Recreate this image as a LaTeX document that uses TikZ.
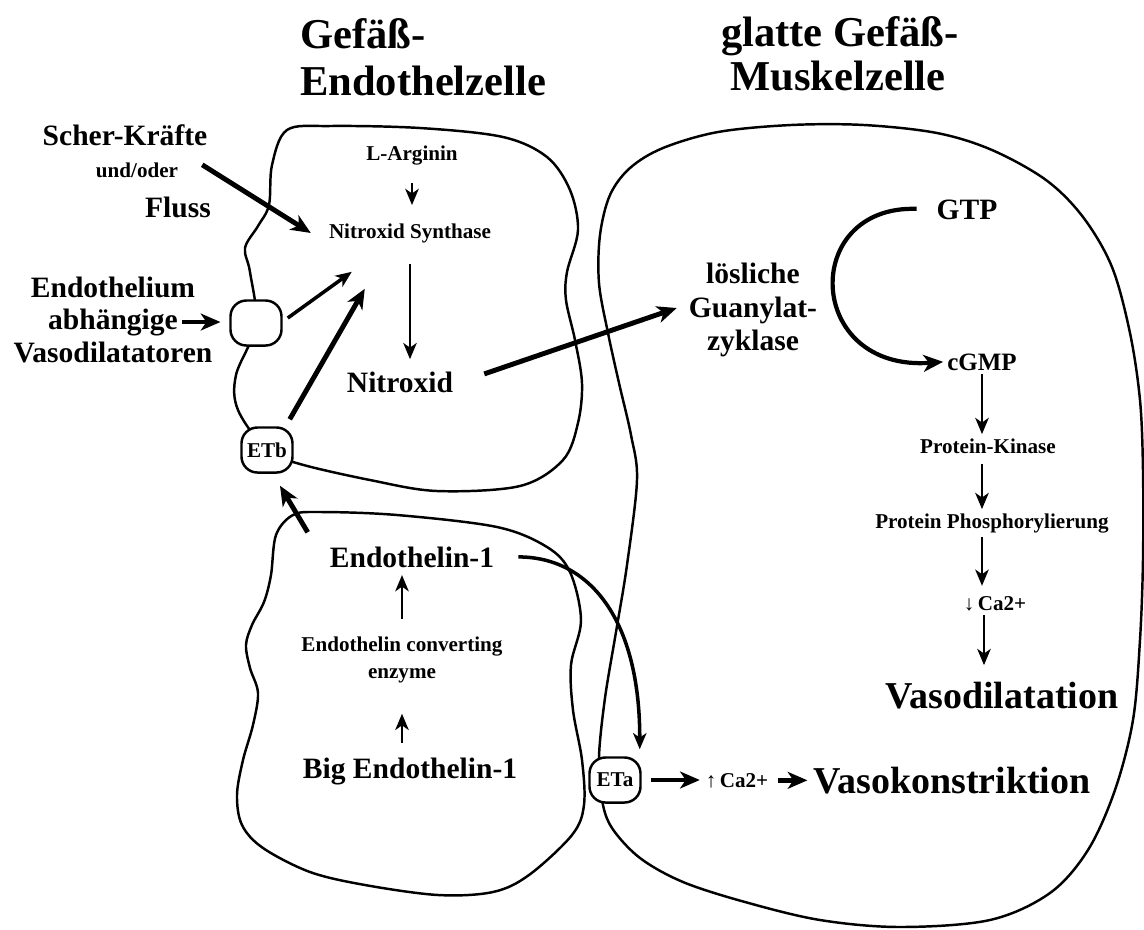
\documentclass[tikz,border=0pt]{standalone}
\usepackage{fontspec}
\setmainfont{Liberation Serif}
\usetikzlibrary{arrows.meta, calc}

\begin{document}
\begin{tikzpicture}[x=0.01cm, y=-0.01cm, every text node part/.style={align=center}]

\tikzstyle{zelle}=[draw, line width=0.7pt]
\tikzstyle{rez}=[draw, line width=0.7pt, fill=white, rounded corners=0.16cm, minimum width=0.51cm, minimum height=0.45cm, inner sep=0pt, font=\fontsize{6}{7}\selectfont\bfseries]
\tikzstyle{klein}=[inner sep=1pt, anchor=base, font=\fontsize{6}{7}\selectfont\bfseries]
\tikzstyle{mittel}=[inner sep=1pt, anchor=base, font=\fontsize{8.4}{9.5}\selectfont\bfseries]
\tikzstyle{gross}=[inner sep=1pt, anchor=base, font=\fontsize{10.8}{12}\selectfont\bfseries]
\tikzstyle{titel}=[inner sep=1pt, anchor=base west, font=\fontsize{12.1}{14}\selectfont\bfseries]
\tikzstyle{arr}=[draw, line width=0.85pt, -{Stealth[length=4.6pt, width=3.8pt, inset=1.3pt]}]
\tikzstyle{dick}=[draw, line width=1.4pt, -{Stealth[length=5.6pt, width=4.8pt, inset=1.6pt]}]

\useasboundingbox (0, 0) rectangle (1144, 929);

% Zellen
\draw [zelle] plot [smooth cycle, tension=0.55] coordinates {
    (287,130) (330,126) (420,128) (503,137) (547,157) (570,190) (578,230)
    (567,272) (566,300) (575,340) (582,383) (578,423) (563,460) (520,486)
    (437,491) (370,480) (300,464) (267,450) (238,410) (236,375) (256,325)
    (250,272) (245,248) (258,226) (269,205) (272,165)};
\draw [zelle] plot [smooth cycle, tension=0.55] coordinates {
    (293,515) (320,512) (397,515) (497,527) (547,547) (570,572) (581,620)
    (571,665) (573,710) (582,760) (584,805) (572,835) (529,875) (493,892)
    (438,895) (365,885) (310,872) (263,848) (242,825) (237,795) (243,760)
    (253,725) (258,693) (250,668) (246,645) (252,625) (264,602) (271,575)
    (276,535)};
\draw [zelle] plot [smooth cycle, tension=0.55] coordinates {
    (663,148) (718,132) (791,125) (864,125) (937,133) (992,150) (1046,180)
    (1083,217) (1112,267) (1130,333) (1140,400) (1143,470) (1143,560)
    (1140,640) (1133,720) (1115,790) (1088,850) (1050,893) (990,920)
    (900,927) (820,920) (745,902) (683,882) (640,858) (612,828) (602,800)
    (599,757) (605,698) (616,632) (627,565) (637,480) (631,435) (619,383)
    (608,333) (599,283) (600,235) (610,195) (630,168)};

% Titel
\node (gef1) [titel] at (296, 48) {Gefäß-};
\node (gef2) [titel] at (296, 95) {Endothelzelle};
\node (mus1) [titel, anchor=base] at (840, 46) {glatte Gefäß-};
\node (mus2) [titel, anchor=base] at (838, 90) {Muskelzelle};

% Endothelzelle
\node (scher)       [mittel] at (125, 145) {Scher-Kräfte};
\node (undoder)     [klein]  at (137, 177) {und/oder};
\node (fluss)       [mittel] at (178, 217) {Fluss};
\node (endothelium) [mittel] at (113, 297) {Endothelium};
\node (abhaengig)   [mittel] at (113, 329) {abhängige};
\node (vasodilat)   [mittel] at (113, 362) {Vasodilatatoren};
\node (rez)         [rez]    at (256, 323) {};
\node (etb)         [rez]    at (267, 450) {ETb};
\node (larginin)    [klein]  at (412, 160) {L-Arginin};
\node (nos)         [klein]  at (410, 238) {Nitroxid Synthase};
\node (no)          [mittel] at (400, 392) {Nitroxid};
\node (et1)         [mittel] at (412, 567) {Endothelin-1};
\node (ece)         [klein, anchor=center, font=\fontsize{6}{7.7}\selectfont\bfseries] at (402, 660) {Endothelin converting\\enzyme};
\node (biget)       [mittel] at (410, 778) {Big Endothelin-1};

% Muskelzelle
\node (gc)    [mittel, anchor=center] at (753, 310) {lösliche\\Guanylat-\\zyklase};
\node (gtp)   [mittel] at (967, 219) {GTP};
\node (cgmp)  [mittel, font=\fontsize{7.1}{8}\selectfont\bfseries] at (982, 370) {cGMP};
\node (pk)    [klein]  at (988, 453) {Protein-Kinase};
\node (pp)    [klein]  at (992, 528) {Protein Phosphorylierung};
\node (cadown)[klein]  at (995, 610) {↓\,Ca2+};
\node (vd)    [gross]  at (1002, 708) {Vasodilatation};
\node (eta)   [rez]    at (615, 780) {ETa};
\node (caup)  [klein]  at (737, 787) {↑\,Ca2+};
\node (vk)    [gross]  at (952, 793) {Vasokonstriktion};

% Pfeile
\path [dick] ($ (undoder.east) + (20, -5) $) -- ($ (nos.west) + (-14, 0) $);
\path [dick, shorten >=2.5pt] (abhaengig.east) -- (abhaengig.east -| rez.west);
\path [arr, line width=1pt] ($ (rez.east) + (5, -5) $) -- ($ (nos.south west) + (27, 25) $);
\path [dick] ($ (etb.north east) + (-4, -7) $) -- ($ (nos.south west) + (40, 42) $);
\path [arr, shorten <=4pt, shorten >=4pt] (larginin.south) -- (larginin.south |- nos.north);
\path [arr, line width=0.7pt, shorten <=5pt, shorten >=2.3pt] (nos.south) -- (nos.south |- no.north);
\path [dick] ($ (no.east) + (27, -8) $) -- ($ (gc.west) + (-8, -2) $);

\path [dick, line width=1.2pt, shorten <=4.5pt] (gtp.west)
    .. controls (800, 205) and (805, 372) .. (cgmp.west);
\path [arr] (cgmp.south) -- (cgmp.south |- pk.north);
\path [arr, shorten <=2pt] (cgmp.south |- pk.south) -- (cgmp.south |- pp.north);
\path [arr] (cgmp.south |- pp.south) -- ($ (cgmp.south |- cadown.north) + (0, -6) $);
\path [arr, shorten >=3.5pt] ($ (cgmp.south |- cadown.south) + (2, 0) $) -- ($ (cgmp.south |- vd.north) + (2, 0) $);

\path [dick] ($ (et1.north west) + (-18, -10) $) -- ($ (etb.south) + (13, 12) $);
\path [arr, shorten <=3pt, shorten >=7.5pt] (ece.south |- biget.north) -- (ece.south |- ece.south);
\path [arr, shorten >=1pt] ($ (ece.north) + (0, -14) $) -- (ece.north |- et1.south);
\path [arr, line width=1pt] ($ (et1.east) + (20, 0) $)
    .. controls (590, 557) and (640, 620) .. ($ (eta.north east) + (-2, -7) $);
\path [dick, shorten <=2.5pt, shorten >=0.5pt] (eta.east) -- (eta.east -| caup.west);
\path [dick, shorten <=1.5pt, shorten >=0.5pt] (caup.east) -- (caup.east -| vk.west);

\end{tikzpicture}
\end{document}
